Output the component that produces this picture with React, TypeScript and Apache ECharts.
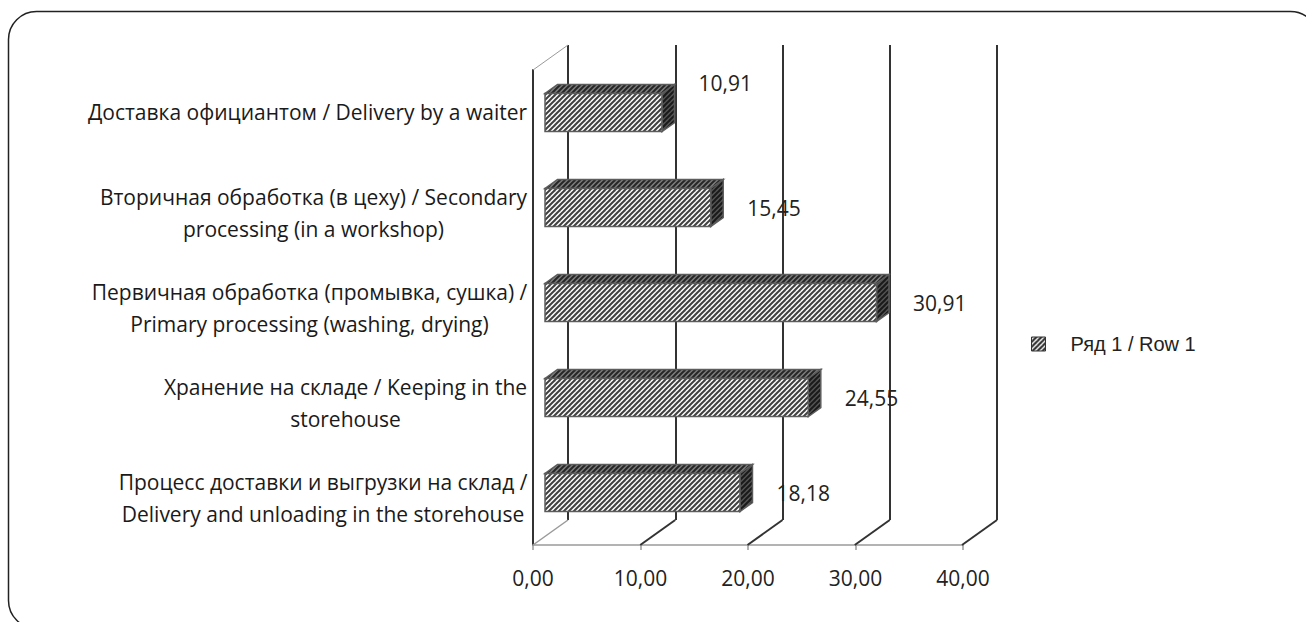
import React, { useEffect, useRef } from 'react';
import * as echarts from 'echarts';

const categories = [
  'Доставка официантом / Delivery by a waiter',
  'Вторичная обработка (в цеху) / Secondary\nprocessing (in a workshop)',
  'Первичная обработка (промывка, сушка) /\nPrimary processing (washing, drying)',
  'Хранение на складе / Keeping in the\nstorehouse',
  'Процесс доставки и выгрузки на склад /\nDelivery and unloading in the storehouse',
];
const values = [10.91, 15.45, 30.91, 24.55, 18.18];
const xTicks = [0, 10, 20, 30, 40];
const seriesName = 'Ряд 1 / Row 1';

const LABEL_FONT = 'Open Sans';
const LABEL_SIZE = 21;

function fmt(v: number) {
  return v.toFixed(2).replace('.', ',');
}

function makeHatch(bg: string, fg: string, s = 5, lw = 2) {
  const c = document.createElement('canvas');
  c.width = s;
  c.height = s;
  const ctx = c.getContext('2d')!;
  ctx.fillStyle = bg;
  ctx.fillRect(0, 0, s, s);
  ctx.strokeStyle = fg;
  ctx.lineWidth = lw;
  for (const k of [-s, 0, s]) {
    ctx.beginPath();
    ctx.moveTo(k - 1, s + 1);
    ctx.lineTo(k + s + 1, -1);
    ctx.stroke();
  }
  return { image: c, repeat: 'repeat' as const };
}

export default function App() {
  const ref = useRef<HTMLDivElement>(null);
  useEffect(() => {
    if (!ref.current) return;
    const chart = echarts.init(ref.current, undefined, { renderer: 'svg' });

    const frontPat = makeHatch('#ffffff', '#404040');
    const topPat = makeHatch('#808080', '#262626');
    const sidePat = makeHatch('#555555', '#1a1a1a');
    const legendPat = makeHatch('#ffffff', '#303030', 5, 2.2);

    const mc = document.createElement('canvas').getContext('2d')!;
    mc.font = `${LABEL_SIZE}px "${LABEL_FONT}"`;
    const rich: Record<string, any> = {};
    categories.forEach((cat, i) => {
      const lines = cat.split('\n');
      const w = Math.max(...lines.map((l) => mc.measureText(l).width));
      rich['l' + i] = {
        width: Math.ceil(w) + 1,
        align: 'center',
        fontFamily: LABEL_FONT,
        fontSize: LABEL_SIZE,
        lineHeight: 32,
        color: '#1a1a1a',
        padding: lines.length === 1 ? [0, 0, 12, 0] : 0,
      };
    });

    const DX = -35;
    const DY = 25;

    chart.setOption({
      animation: false,
      backgroundColor: '#ffffff',
      graphic: [
        {
          type: 'rect',
          shape: { x: 8.5, y: 11.5, width: 1310, height: 617, r: 28 },
          style: { fill: 'none', stroke: '#222', lineWidth: 1.5 },
          silent: true,
          z: -10,
        },
      ],
      legend: {
        data: [seriesName],
        left: 1026,
        top: 329,
        padding: 5,
        icon: 'rect',
        itemWidth: 14,
        itemHeight: 14,
        selectedMode: false,
        itemStyle: { color: legendPat, borderColor: '#333', borderWidth: 1 },
        textStyle: {
          fontFamily: 'Liberation Sans',
          fontSize: 20,
          color: '#222',
          padding: [0, 0, 0, 20],
        },
      },
      grid: [
        { left: 568, top: 45, width: 429, height: 475 },
        { left: 533, top: 70, width: 430, height: 475 },
      ],
      xAxis: [
        {
          gridIndex: 0,
          type: 'value',
          min: 0,
          max: 40,
          interval: 10,
          axisLine: { show: false },
          axisTick: { show: false },
          axisLabel: { show: false },
          splitLine: { show: true, lineStyle: { color: '#333', width: 2 } },
        },
        {
          gridIndex: 1,
          type: 'value',
          min: 0,
          max: 40,
          interval: 10,
          axisLine: { show: true, lineStyle: { color: '#9a9a9a', width: 1.5 } },
          axisTick: { show: true, length: 5, lineStyle: { color: '#9a9a9a', width: 1.5 } },
          axisLabel: {
            formatter: (v: number) => fmt(v),
            fontFamily: LABEL_FONT,
            fontSize: 21,
            color: '#222',
            margin: 22,
          },
          splitLine: { show: false },
        },
      ],
      yAxis: [
        {
          gridIndex: 0,
          type: 'category',
          inverse: true,
          data: categories,
          show: false,
        },
        {
          gridIndex: 1,
          type: 'category',
          inverse: true,
          data: categories,
          axisLine: { show: true, lineStyle: { color: '#333', width: 2 } },
          axisTick: { show: false },
          axisLabel: {
            margin: 5,
            align: 'right',
            formatter: (value: string, index: number) =>
              value
                .split('\n')
                .map((l) => `{l${index}|${l}}`)
                .join('\n'),
            rich,
          },
        },
      ],
      series: [
        {
          type: 'custom',
          name: 'walls',
          xAxisIndex: 0,
          yAxisIndex: 0,
          clip: false,
          silent: true,
          data: xTicks.map((t) => [t, 0]),
          encode: { x: 0, y: 1 },
          renderItem: (params: any, api: any) => {
            const t = api.value(0);
            const band = api.size([0, 1])[1];
            const bottom = api.coord([t, categories.length - 1]);
            const by = bottom[1] + band / 2;
            const bx = bottom[0];
            const children: any[] = [
              {
                type: 'line',
                shape: { x1: bx, y1: by, x2: bx + DX, y2: by + DY },
                style: { stroke: t === 0 ? '#9a9a9a' : '#333', lineWidth: t === 0 ? 1.5 : 2 },
              },
            ];
            if (t === 0) {
              const top = api.coord([0, 0]);
              const ty = top[1] - band / 2;
              children.push({
                type: 'line',
                shape: { x1: bx, y1: ty, x2: bx + DX, y2: ty + DY },
                style: { stroke: '#9a9a9a', lineWidth: 1 },
              });
            }
            return { type: 'group', children };
          },
        },
        {
          type: 'custom',
          name: seriesName,
          xAxisIndex: 0,
          yAxisIndex: 0,
          clip: false,
          itemStyle: { color: legendPat },
          data: values.map((v, i) => [v, i]),
          encode: { x: 0, y: 1 },
          renderItem: (params: any, api: any) => {
            const idx = params.dataIndex;
            const v = api.value(0);
            const c = api.value(1);
            const s = api.coord([0, c]);
            const e = api.coord([v, c]);
            const band = api.size([0, 1])[1];
            const h = band * 0.4;
            const FX = -23, FY = 20, BX = -10.5, BY = 11;
            const fl = s[0] + FX, fr = e[0] + FX;
            const ft = s[1] + FY - h / 2, fb = ft + h;
            const bl = s[0] + BX, br = e[0] + BX;
            const bt = s[1] + BY - h / 2, bb = bt + h;
            const stroke = '#5c5c5c';
            const lw = 1.5;
            return {
              type: 'group',
              children: [
                {
                  type: 'polygon',
                  shape: { points: [[fl, ft], [fr, ft], [br, bt], [bl, bt]] },
                  style: { fill: topPat, stroke, lineWidth: lw },
                },
                {
                  type: 'polygon',
                  shape: { points: [[fr, ft], [br, bt], [br, bb], [fr, fb]] },
                  style: { fill: sidePat, stroke, lineWidth: lw },
                },
                {
                  type: 'rect',
                  shape: { x: fl, y: ft, width: fr - fl, height: h },
                  style: { fill: frontPat, stroke, lineWidth: lw },
                },
                {
                  type: 'text',
                  x: br + 24,
                  y: idx === 0 ? (ft + fb) / 2 - 30 : (ft + fb) / 2,
                  style: {
                    text: fmt(v),
                    fill: '#222',
                    fontFamily: LABEL_FONT,
                    fontSize: 21,
                    align: 'left',
                    verticalAlign: 'middle',
                  },
                },
              ],
            };
          },
        },
      ],
    });
    return () => chart.dispose();
  }, []);
  return (
    <div
      ref={ref}
      style={{ position: 'absolute', left: 0, top: 0, width: 1306, height: 622 }}
    />
  );
}
